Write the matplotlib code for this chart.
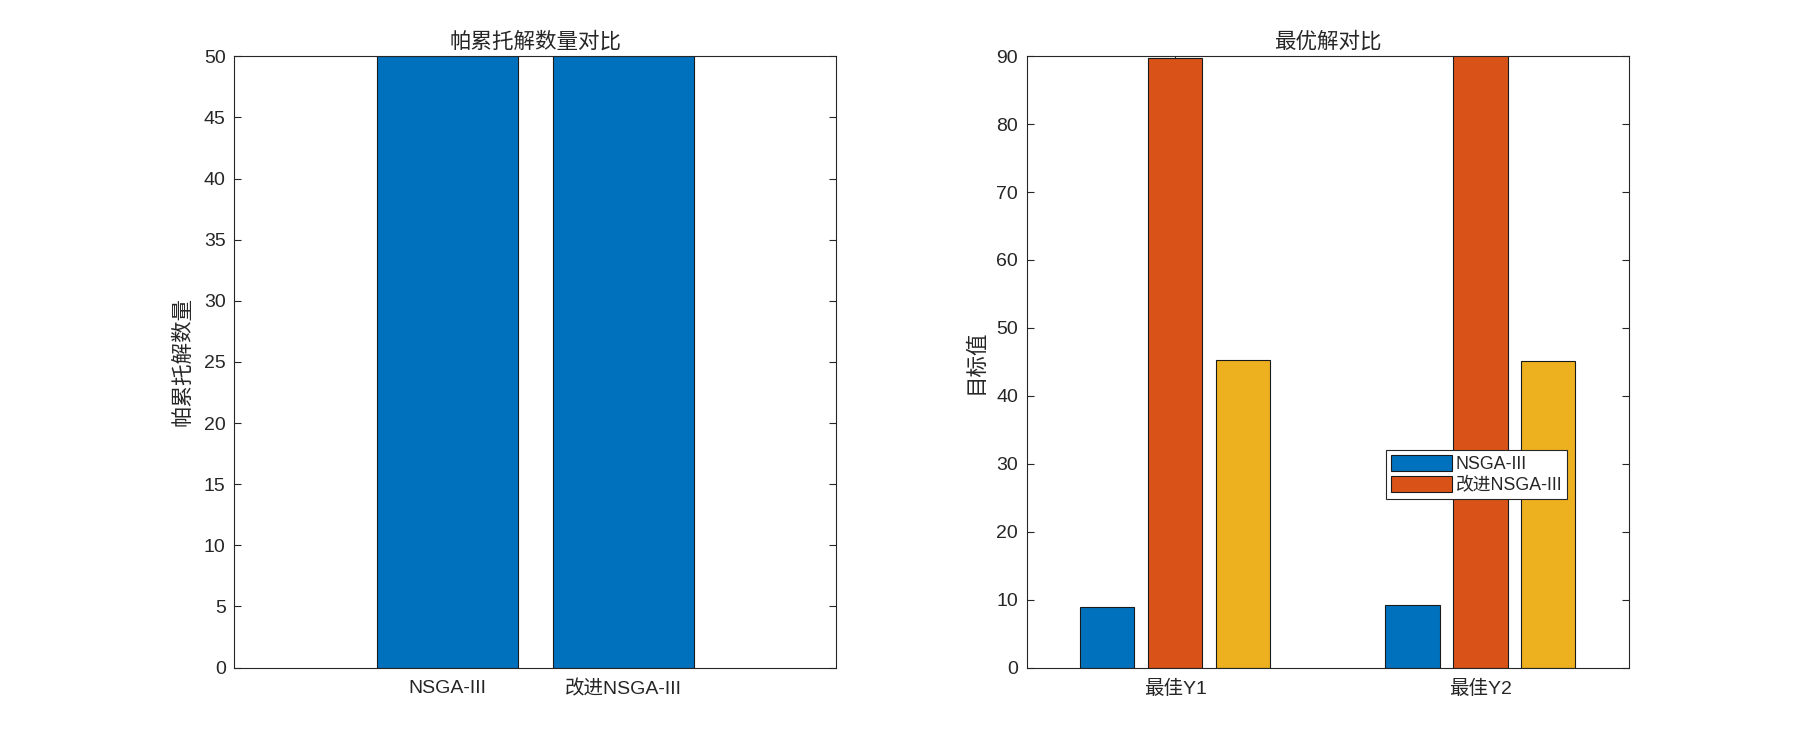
import numpy as np
import matplotlib
matplotlib.use("Agg")
import matplotlib.pyplot as plt

plt.rcParams['font.family'] = ['Liberation Sans', 'Noto Sans CJK SC', 'DejaVu Sans']

# ---- data ----
left_categories = ['NSGA-III', '改进NSGA-III']
pareto_counts = [50, 50]
left_yticks = list(range(0, 51, 5))

right_categories = ['最佳Y1', '最佳Y2']
nsga3_best = [8.97, 9.15]
improved_best = [89.8, 90.3]
third_best = [45.3, 45.1]
legend_labels = ['NSGA-III', '改进NSGA-III']
right_yticks = list(range(0, 91, 10))

title_left = '帕累托解数量对比'
ylabel_left = '帕累托解数量'
title_right = '最优解对比'
ylabel_right = '目标值'

# ---- style ----
C_BLUE = '#0072BD'
C_ORANGE = '#D95319'
C_YELLOW = '#EDB120'
TXT = '#262626'
TICK_FS = 14
LABEL_FS = 15.5
EDGE_LW = 0.8

fig = plt.figure(figsize=(18, 7.5), dpi=100)
ax1 = fig.add_axes([0.13, 0.11, 0.3347, 0.815])
ax2 = fig.add_axes([0.5703, 0.11, 0.3347, 0.815])


def style_axes(ax):
    for s in ax.spines.values():
        s.set_color(TXT)
        s.set_linewidth(0.8)
    ax.tick_params(axis='both', which='both', direction='in', length=5,
                   width=0.8, color=TXT, labelcolor=TXT, labelsize=TICK_FS,
                   top=True, right=True)
    ax.tick_params(axis='y', pad=6)
    ax.tick_params(axis='x', pad=9)


# ---- left chart ----
x1 = np.arange(1, len(left_categories) + 1)
ax1.bar(x1, pareto_counts, width=0.8, color=C_BLUE, edgecolor='#1a1a1a',
        linewidth=EDGE_LW, zorder=2)
ax1.set_xlim(-0.21, 3.21)
ax1.set_ylim(0, 50)
ax1.set_yticks(left_yticks)
ax1.set_xticks(x1)
ax1.set_xticklabels(left_categories)
style_axes(ax1)
ax1.set_title(title_left, fontsize=LABEL_FS, color=TXT, pad=6)
ax1.set_ylabel(ylabel_left, fontsize=LABEL_FS, color=TXT)
ax1.yaxis.set_label_coords(-0.067, 0.5)

# ---- right chart ----
x2 = np.arange(1, len(right_categories) + 1)
off = 0.2222
bw = 0.1778
b1 = ax2.bar(x2 - off, nsga3_best, width=bw, color=C_BLUE, edgecolor='#1a1a1a',
             linewidth=EDGE_LW, label=legend_labels[0], zorder=2)
b2 = ax2.bar(x2, improved_best, width=bw, color=C_ORANGE, edgecolor='#1a1a1a',
             linewidth=EDGE_LW, label=legend_labels[1], zorder=2)
b3 = ax2.bar(x2 + off, third_best, width=bw, color=C_YELLOW, edgecolor='#1a1a1a',
             linewidth=EDGE_LW, zorder=2)
ax2.set_xlim(0.513, 2.487)
ax2.set_ylim(0, 90)
ax2.set_yticks(right_yticks)
ax2.set_xticks(x2)
ax2.set_xticklabels(right_categories)
style_axes(ax2)
ax2.set_title(title_right, fontsize=LABEL_FS, color=TXT, pad=6)
ax2.set_ylabel(ylabel_right, fontsize=LABEL_FS, color=TXT)
ax2.yaxis.set_label_coords(-0.067, 0.5)

leg = ax2.legend(handles=[b1, b2], labels=legend_labels,
                 loc='upper left', bbox_to_anchor=(1386 / 1800, 1 - 450 / 750),
                 bbox_transform=fig.transFigure, borderaxespad=0,
                 fontsize=12.8, handlelength=3.43, handleheight=1.0,
                 handletextpad=0.22, labelspacing=0.15, borderpad=0.28,
                 fancybox=False, framealpha=1, edgecolor=TXT)
leg.get_frame().set_linewidth(0.8)
for t in leg.get_texts():
    t.set_color(TXT)

fig.savefig('out.png', dpi=100, facecolor='white')
